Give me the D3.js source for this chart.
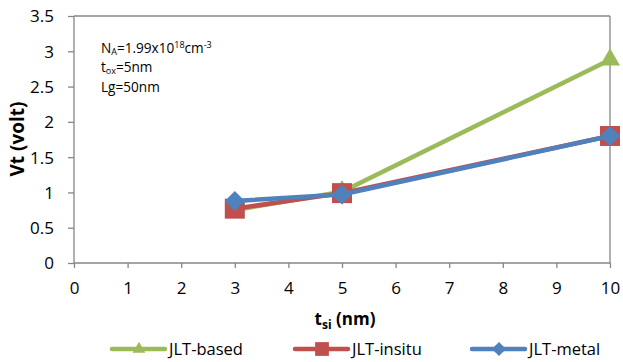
<!DOCTYPE html>
<html><head><meta charset="utf-8">
<script src="https://cdn.jsdelivr.net/npm/d3@7"></script>
<style>body{margin:0;background:#fff}svg{display:block;font-family:"Open Sans","Liberation Sans",sans-serif}</style>
</head><body><svg id="c" width="623" height="362"></svg>
<script>
const xValues = [3, 5, 10];
const jltBased = [0.75, 1.01, 2.88];
const jltInsitu = [0.77, 0.99, 1.8];
const jltMetal = [0.88, 0.97, 1.8];
const seriesNames = ["JLT-based", "JLT-insitu", "JLT-metal"];
const xTicks = [0,1,2,3,4,5,6,7,8,9,10];
const yTicks = [0,0.5,1,1.5,2,2.5,3,3.5];

const svg = d3.select("#c");
const L = 74, R = 610, T = 16, B = 263;
const x = d3.scaleLinear().domain([0,10]).range([L,R]);
const y = d3.scaleLinear().domain([0,3.5]).range([B,T]);
const axisColor = "#868686";

// frame
svg.append("line").attr("x1",L).attr("x2",R).attr("y1",T).attr("y2",T).attr("stroke",axisColor).attr("stroke-width",1.3);
svg.append("line").attr("x1",R).attr("x2",R).attr("y1",T).attr("y2",B).attr("stroke",axisColor).attr("stroke-width",1.3);

const gy = svg.append("g").attr("transform",`translate(${L},0)`)
  .call(d3.axisLeft(y).tickValues(yTicks).tickSize(6).tickPadding(14).tickFormat(d=>String(d)));
const gx = svg.append("g").attr("transform",`translate(0,${B})`)
  .call(d3.axisBottom(x).tickValues(xTicks).tickSize(5).tickPadding(14).tickFormat(d=>String(d)));
[gx,gy].forEach(g=>{
  g.selectAll("path,line").attr("stroke",axisColor).attr("stroke-width",1.3);
  g.select(".domain").attr("d", g===gx ? `M${L},0H${R}` : `M0,${B}V${T}`);
  g.selectAll("text").attr("fill","#000").style("font-size","17px").style("font-family","Open Sans, Liberation Sans, sans-serif");
});
gy.selectAll("text").attr("dy","0.35em");

const diamond = {draw(ctx, size){ const r = Math.sqrt(size/2); ctx.moveTo(0,-r); ctx.lineTo(r,0); ctx.lineTo(0,r); ctx.lineTo(-r,0); ctx.closePath(); }};
const series = [
  {name: seriesNames[0], vals: jltBased, color:"#9BBB59", sym: d3.symbolTriangle, size: 175, lsize: 70},
  {name: seriesNames[1], vals: jltInsitu, color:"#C0504D", sym: d3.symbolSquare, size: 400, lsize: 190},
  {name: seriesNames[2], vals: jltMetal, color:"#4F81BD", sym: diamond, size: 200, lsize: 100},
];
const line = d3.line().x(d=>x(d[0])).y(d=>y(d[1]));
series.forEach(s=>{
  const pts = xValues.map((v,i)=>[v,s.vals[i]]);
  svg.append("path").attr("d",line(pts)).attr("fill","none").attr("stroke",s.color).attr("stroke-width",4.5);
  svg.selectAll(null).data(pts).enter().append("path")
    .attr("d",d3.symbol().type(s.sym).size(s.size))
    .attr("transform",d=>`translate(${x(d[0])},${y(d[1])})`)
    .attr("fill",s.color);
});

// annotation
const ann = svg.append("g").style("font-size","13.6px").attr("fill","#000");
const t1 = ann.append("text").attr("x",101).attr("y",53);
t1.append("tspan").text("N");
t1.append("tspan").text("A").attr("dy",2).style("font-size","9px");
t1.append("tspan").text("=1.99x10").attr("dy",-2);
t1.append("tspan").text("18").attr("dy",-5).style("font-size","9px");
t1.append("tspan").text("cm").attr("dy",5);
t1.append("tspan").text("-3").attr("dy",-5).style("font-size","9px");
const t2 = ann.append("text").attr("x",101).attr("y",72);
t2.append("tspan").text("t");
t2.append("tspan").text("ox").attr("dy",2).style("font-size","9px");
t2.append("tspan").text("=5nm").attr("dy",-2);
ann.append("text").attr("x",101).attr("y",91.5).text("Lg=50nm");

// axis titles
svg.append("text").attr("transform","translate(24,139) rotate(-90)").attr("text-anchor","middle")
  .style("font-size","19px").style("font-weight","bold").text("Vt (volt)");
const xt = svg.append("text").attr("x",345).attr("y",325).attr("text-anchor","middle")
  .style("font-size","17px").style("font-weight","bold");
xt.append("tspan").text("t");
xt.append("tspan").text("si").attr("dy",4).style("font-size","12px");
xt.append("tspan").text(" (nm)").attr("dy",-4);

// legend
const legX = [112, 295, 472];
series.forEach((s,i)=>{
  const g = svg.append("g").attr("transform",`translate(${legX[i]},349)`);
  g.append("line").attr("x1",0).attr("x2",53).attr("stroke",s.color).attr("stroke-width",4.5).attr("stroke-linecap","round");
  g.append("path").attr("d",d3.symbol().type(s.sym).size(s.lsize)).attr("transform","translate(27,0)").attr("fill",s.color);
  g.append("text").attr("x",57).attr("y",6).style("font-size","16.5px").text(s.name);
});
</script></body></html>
